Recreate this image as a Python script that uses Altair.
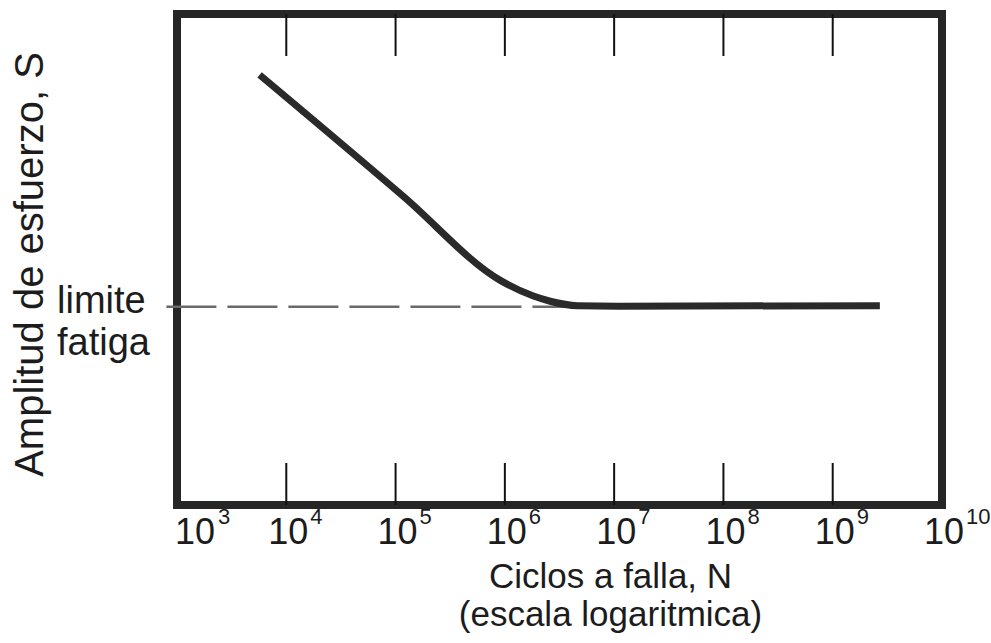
import altair as alt
import pandas as pd

# S-N (Wöhler) curve: stress amplitude vs. cycles to failure
curve_cycles = [5.7e3, 1.2e5, 9.0e5, 1.8e6, 2.6e6, 4.6e6, 1.1e7, 2.7e9]
curve_stress = [87.6, 62.7, 45.8, 42.6, 41.5, 40.6, 40.5, 40.6]

fatigue_limit = 40.4
dash_start_cycles = 8.0e2
dash_end_cycles = 4.6e6

tick_exponents = [4, 5, 6, 7, 8, 9]
label_exponents = [3, 4, 5, 6, 7, 8, 9, 10]

FONT = "Liberation Sans"
INK = "#1c1c1c"

curve_df = pd.DataFrame({"N": curve_cycles, "S": curve_stress})
limit_df = pd.DataFrame({"N": [dash_start_cycles], "N2": [dash_end_cycles], "S": [fatigue_limit]})
tick_df = pd.DataFrame({"N": [10.0 ** e for e in tick_exponents]})
label_df = pd.DataFrame({
    "N": [10.0 ** e for e in label_exponents],
    "exp": label_exponents,
    "exp_txt": [str(e) for e in label_exponents],
})

x_scale = alt.Scale(type="log", domain=[1e3, 1e10])
y_scale = alt.Scale(domain=[0, 100])

x_axis = alt.Axis(
    labels=False, ticks=False, domain=False, grid=False,
    title=["Ciclos a falla, N", "(escala logaritmica)"],
    titleFont=FONT, titleFontSize=35, titleFontWeight="normal", titleColor=INK,
    titleX=433, titleY=82, titleAlign="center", titleBaseline="alphabetic",
    titleLineHeight=38,
)
y_axis = alt.Axis(
    labels=False, ticks=False, domain=False, grid=False,
    title="Amplitud de esfuerzo, S",
    titleFont=FONT, titleFontSize=40, titleFontWeight="normal", titleColor=INK,
    titleAngle=270, titleX=-147, titleY=250, titleAlign="center", titleBaseline="middle",
)

base = alt.Chart(curve_df)

curve = base.mark_line(
    color="#2a2a2a", strokeWidth=7, interpolate="monotone", strokeCap="butt"
).encode(
    x=alt.X("N:Q", scale=x_scale, axis=x_axis),
    y=alt.Y("S:Q", scale=y_scale, axis=y_axis),
)

limit_line = alt.Chart(limit_df).mark_rule(
    color="#6a6a6a", strokeWidth=2.5, strokeDash=[50, 11]
).encode(
    x=alt.X("N:Q", scale=x_scale),
    x2="N2:Q",
    y=alt.Y("S:Q", scale=y_scale),
)

limit_text = alt.Chart(limit_df).mark_text(
    text=["limite", "fatiga"], font=FONT, fontSize=38, color=INK,
    align="left", baseline="alphabetic", dy=6, lineHeight=42,
).encode(
    x=alt.value(-120),
    y=alt.Y("S:Q", scale=y_scale),
)

top_ticks = alt.Chart(tick_df).mark_rule(color="#111111", strokeWidth=2).encode(
    x=alt.X("N:Q", scale=x_scale),
    y=alt.value(0),
    y2=alt.value(42),
)
bottom_ticks = alt.Chart(tick_df).mark_rule(color="#111111", strokeWidth=2).encode(
    x=alt.X("N:Q", scale=x_scale),
    y=alt.value(449),
    y2=alt.value(491),
)

labels = alt.Chart(label_df)
base_first = labels.transform_filter("datum.exp == 3").mark_text(
    text="10", font=FONT, fontSize=36, color=INK, align="left", baseline="alphabetic", dx=-2
).encode(x=alt.X("N:Q", scale=x_scale), y=alt.value(530))
base_rest = labels.transform_filter("datum.exp > 3").mark_text(
    text="10", font=FONT, fontSize=36, color=INK, align="center", baseline="alphabetic", dx=2
).encode(x=alt.X("N:Q", scale=x_scale), y=alt.value(530))
sup_first = labels.transform_filter("datum.exp == 3").mark_text(
    font=FONT, fontSize=22, color=INK, align="left", baseline="alphabetic", dx=41
).encode(x=alt.X("N:Q", scale=x_scale), y=alt.value(510), text="exp_txt:N")
sup_rest = labels.transform_filter("datum.exp > 3").mark_text(
    font=FONT, fontSize=22, color=INK, align="left", baseline="alphabetic", dx=24
).encode(x=alt.X("N:Q", scale=x_scale), y=alt.value(510), text="exp_txt:N")

chart = alt.layer(
    limit_line, curve, top_ticks, bottom_ticks, limit_text,
    base_first, base_rest, sup_first, sup_rest,
).properties(
    width=765, height=491,
    autosize=alt.AutoSizeParams(type="none"),
    padding={"left": 177, "top": 14, "right": 49, "bottom": 138},
    background="white",
).configure_view(
    stroke="#262626", strokeWidth=8,
)

chart.save("out.html", embed_options={"renderer": "svg", "actions": False})
